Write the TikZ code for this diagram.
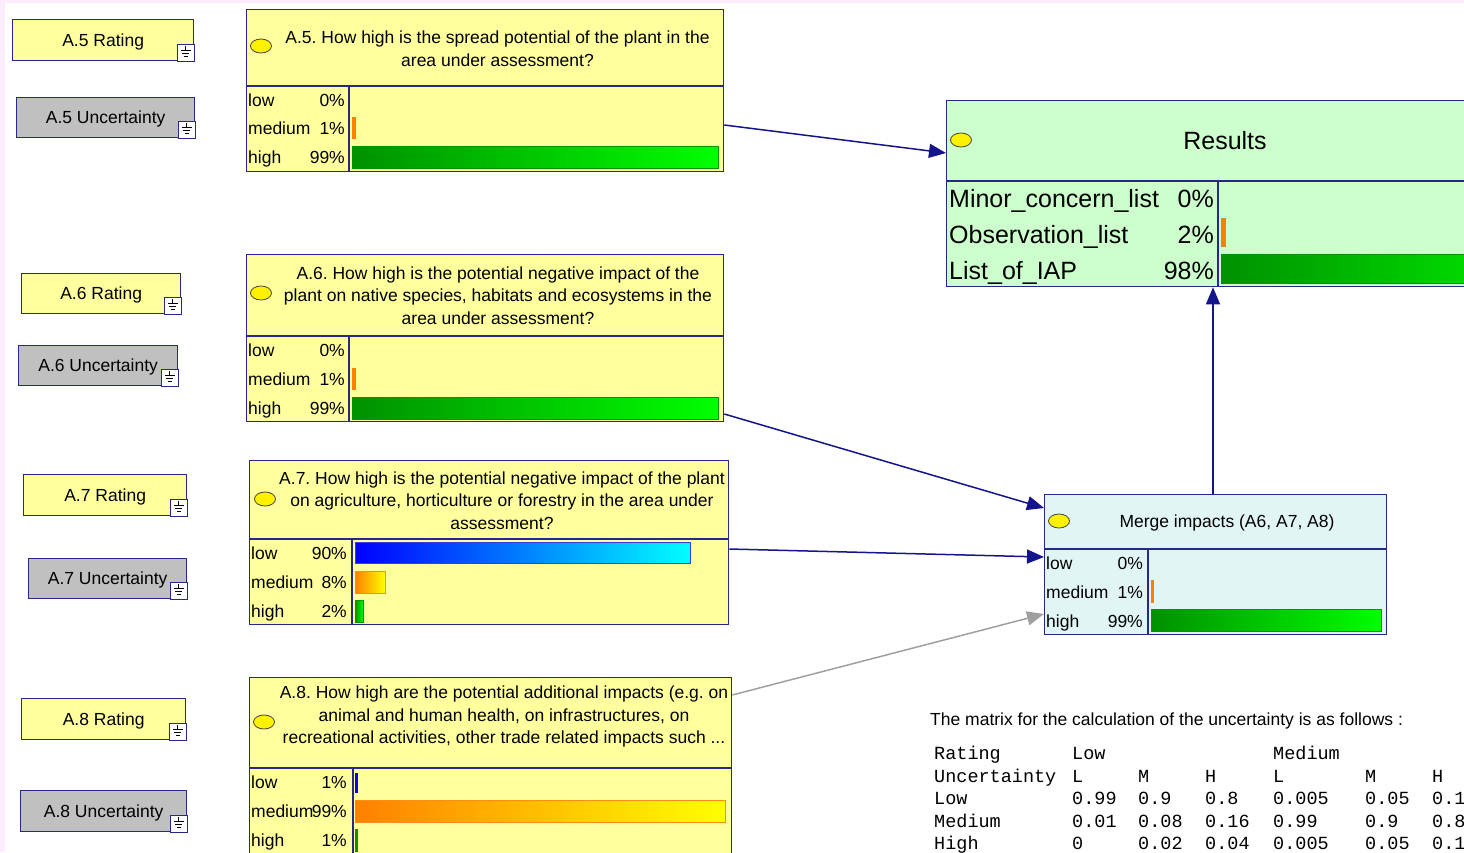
\documentclass[tikz,border=0pt]{standalone}
\usepackage{fontspec}
\setmainfont{Liberation Sans}
\newfontfamily\monofont{Liberation Mono}
\usetikzlibrary{calc,arrows.meta,shapes.geometric}
\frenchspacing
\definecolor{bordc}{RGB}{40,40,140}
\definecolor{yelfill}{RGB}{255,255,158}
\definecolor{grayfill}{RGB}{192,192,192}
\definecolor{resfill}{RGB}{204,255,204}
\definecolor{mergefill}{RGB}{225,245,245}
\definecolor{pinkbg}{RGB}{252,236,252}
\definecolor{arrc}{RGB}{20,20,140}
\definecolor{grayarr}{RGB}{160,160,160}
\definecolor{orangeL}{RGB}{255,128,0}
\definecolor{orangeD}{RGB}{255,140,20}
\definecolor{yellowR}{RGB}{255,255,0}
\definecolor{greenL}{RGB}{0,145,0}
\definecolor{greenR}{RGB}{0,255,0}
\definecolor{greenD}{RGB}{0,150,0}
\definecolor{blueL}{RGB}{0,0,255}
\definecolor{blueR}{RGB}{0,255,255}
\definecolor{blueD}{RGB}{60,60,220}
\newcommand\fsm{\fontsize{17.5}{22.5}\selectfont}
\newcommand\fbig{\fontsize{25}{30}\selectfont}
\newcommand\fmono{\monofont\fontsize{18.5}{22.5}\selectfont}
\tikzset{
  bline/.style={draw=bordc,line width=1.3pt},
  smallbox/.style={draw=bordc,line width=1.3pt,fill=yelfill,anchor=north west,inner sep=0pt,font=\fsm,text height=12.5pt,text depth=0pt},
  uncbox/.style={smallbox,fill=grayfill},
  qbox/.style={draw=bordc,line width=1.3pt,fill=yelfill,anchor=north west,inner sep=0pt},
  ell/.style={ellipse,draw=black!75,line width=0.8pt,fill=yellow,minimum width=21pt,minimum height=14pt,inner sep=0pt},
  qtext/.style={align=center,font=\fsm,inner sep=0pt},
  lab/.style={anchor=west,font=\fsm,inner sep=0pt,text height=12.5pt,text depth=0pt},
  val/.style={lab,anchor=east},
  blab/.style={anchor=west,font=\fbig,inner sep=0pt,text height=18pt,text depth=0pt},
  bval/.style={blab,anchor=east},
  mono/.style={anchor=west,font=\fmono,inner sep=0pt,text height=12pt,text depth=0pt},
  conn/.style={draw=arrc,line width=1.5pt,-{Triangle[length=17pt,width=14pt]}},
  gconn/.style={conn,draw=grayarr},
  gbar/.style={draw=greenD,line width=0.8pt,left color=greenL,right color=greenR},
  obar/.style={draw=orangeD,line width=0.8pt,left color=orangeL,right color=yellowR},
  bbar/.style={draw=blueD,line width=0.8pt,left color=blueL,right color=blueR},
}
\begin{document}
\begin{tikzpicture}[x=1pt,y=-1pt]
\clip (0,0) rectangle (1464,852);
\fill[pinkbg] (0,0) rectangle (1464,852);
\fill[white] (5,3) rectangle (1464,852);

% ---------- small left nodes ----------
\node[smallbox,minimum width=181pt,minimum height=41pt] (a5r) at (12,19) {A.5 Rating};
\node[uncbox,minimum width=178pt,minimum height=40pt] (a5u) at (16,97) {A.5 Uncertainty};
\node[smallbox,minimum width=159pt,minimum height=40pt] (a6r) at (21,273) {A.6 Rating};
\node[uncbox,minimum width=159pt,minimum height=40pt] (a6u) at (18,345) {A.6 Uncertainty};
\node[smallbox,minimum width=163pt,minimum height=41pt] (a7r) at (23,474) {A.7 Rating};
\node[uncbox,minimum width=158pt,minimum height=40pt] (a7u) at (28,558) {A.7 Uncertainty};
\node[smallbox,minimum width=164pt,minimum height=41pt] (a8r) at (21,698) {A.8 Rating};
\node[uncbox,minimum width=166pt,minimum height=41pt] (a8u) at (20,790) {A.8 Uncertainty};
\foreach \n in {a5r,a5u,a6r,a6u,a7r,a7u,a8r,a8u}{
  \draw[fill=white,draw=bordc,line width=1pt] ($(\n.south east)+(-17,-17)$) rectangle (\n.south east);
  \draw[black,line width=0.8pt] ($(\n.south east)+(-8.5,-15)$) -- ++(0,4)
        ($(\n.south east)+(-13.5,-11)$) -- ++(10,0)
        ($(\n.south east)+(-12,-8)$) -- ++(7,0)
        ($(\n.south east)+(-10.5,-5)$) -- ++(4,0);
}

% ---------- A.5 ----------
\node[qbox,minimum width=477pt,minimum height=162pt] (a5) at (246,9) {};
\draw[bline] (246,86) -- (723,86) (349,86) -- (349,171);
\node[ell] (a5e) at (261,46) {};
\node[qtext] (a5q) at (497.5,48.5) {A.5. How high is the spread potential of the plant in the\\area under assessment?};
\foreach \yy/\ll/\vv [count=\i] in {100/low/0\%,128.5/medium/1\%,157/high/99\%}{
  \node[lab] (a5l\i) at (248,\yy) {\ll};
  \node[val] (a5v\i) at (345,\yy) {\vv};
}
\fill[orangeL] (352,117) rectangle (356,139);
\draw[gbar] (352,146) rectangle (718,168);

% ---------- A.6 ----------
\node[qbox,minimum width=477pt,minimum height=167pt] (a6) at (246,254) {};
\draw[bline] (246,336) -- (723,336) (349,336) -- (349,421);
\node[ell] (a6e) at (261,293) {};
\node[qtext] (a6q) at (498,295.5) {A.6. How high is the potential negative impact of the\\plant on native species, habitats and ecosystems in the\\area under assessment?};
\foreach \yy/\ll/\vv [count=\i] in {350/low/0\%,379/medium/1\%,408/high/99\%}{
  \node[lab] (a6l\i) at (248,\yy) {\ll};
  \node[val] (a6v\i) at (345,\yy) {\vv};
}
\fill[orangeL] (352,368) rectangle (356,390);
\draw[gbar] (352,397) rectangle (718,419);

% ---------- A.7 ----------
\node[qbox,minimum width=479pt,minimum height=164pt] (a7) at (249,460) {};
\draw[bline] (249,539) -- (728,539) (352,539) -- (352,624);
\node[ell] (a7e) at (265,499) {};
\node[qtext] (a7q) at (502,500.5) {A.7. How high is the potential negative impact of the plant\\on agriculture, horticulture or forestry in the area under\\assessment?};
\foreach \yy/\ll/\vv [count=\i] in {553/low/90\%,582/medium/8\%,611/high/2\%}{
  \node[lab] (a7l\i) at (251,\yy) {\ll};
  \node[val] (a7v\i) at (347,\yy) {\vv};
}
\draw[bbar] (355,542) rectangle (690,563);
\draw[obar] (355,571) rectangle (385,593);
\draw[gbar] (355,600) rectangle (363,622);

% ---------- A.8 ----------
\node[qbox,minimum width=482pt,minimum height=200pt] (a8) at (249,677) {};
\draw[bline] (249,768) -- (731,768) (353,768) -- (353,877);
\node[ell] (a8e) at (264,722) {};
\node[qtext] (a8q) at (504,716.5) {A.8. How high are the potential additional impacts (e.g. on\\animal and human health, on infrastructures, on\\recreational activities, other trade related impacts such ...};
\foreach \yy/\ll/\vv [count=\i] in {782/low/1\%,811/medium/99\%,840/high/1\%}{
  \node[lab] (a8l\i) at (251,\yy) {\ll};
  \node[val] (a8v\i) at (347,\yy) {\vv};
}
\fill[blueL] (355,773) rectangle (358,793);
\draw[obar] (355,800) rectangle (725,822);
\fill[greenD] (355,829) rectangle (358,852);

% ---------- Results ----------
\node[qbox,fill=resfill,minimum width=600pt,minimum height=186pt] (res) at (946,100) {};
\draw[bline] (946,181) -- (1546,181) (1218,181) -- (1218,286);
\node[ell] (rese) at (961,140) {};
\node[font=\fbig,inner sep=0pt,text height=18pt,text depth=0pt] (rest) at (1225,140) {Results};
\foreach \yy/\ll/\vv [count=\i] in {198/Minor\_concern\_list/0\%,234/Observation\_list/2\%,270/List\_of\_IAP/98\%}{
  \node[blab] (resl\i) at (949,\yy) {\ll};
  \node[bval] (resv\i) at (1214,\yy) {\vv};
}
\fill[orangeL] (1221,218) rectangle (1226,247);
\draw[gbar] (1221,254) rectangle (1600,283);

% ---------- Merge impacts ----------
\node[qbox,fill=mergefill,minimum width=342pt,minimum height=140pt] (merge) at (1044,494) {};
\draw[bline] (1044,549) -- (1386,549) (1148,549) -- (1148,634);
\node[ell] (mergee) at (1059,521) {};
\node[font=\fsm,inner sep=0pt,text height=12.5pt,text depth=0pt] (merget) at (1227,521) {Merge impacts (A6, A7, A8)};
\foreach \yy/\ll/\vv [count=\i] in {563/low/0\%,592/medium/1\%,621/high/99\%}{
  \node[lab] (mergel\i) at (1046,\yy) {\ll};
  \node[val] (mergev\i) at (1143,\yy) {\vv};
}
\fill[orangeL] (1151,580) rectangle (1154,603);
\draw[gbar] (1151,609) rectangle (1381,631);

% ---------- connectors ----------
\draw[conn] ($(a5.north east)+(0,116)$) -- ($(res.north west)+(0,53)$);
\draw[conn] ($(a6.north east)+(0,160)$) -- ($(merge.north west)+(0,14)$);
\draw[conn] ($(a7.north east)+(0,89)$) -- ($(merge.north west)+(0,63)$);
\draw[gconn] ($(a8.north east)+(0,18)$) -- ($(merge.north west)+(0,120)$);
\draw[conn] ($(merge.north west)+(169,0)$) -- ($(res.south west)+(267,0)$);

% ---------- matrix text ----------
\node[lab] (mtitle) at (930,719) {The matrix for the calculation of the uncertainty is as follows :};
\node[mono] (mt0a) at (934,753) {Rating};
\node[mono] (mt0b) at (1072,753) {Low};
\node[mono] (mt0c) at (1273,753) {Medium};
\node[mono] (mt1) at (934,776) {Uncertainty};
\foreach \xx/\t [count=\c] in {1072/L,1138/M,1205/H,1273/L,1365/M,1432/H}
  \node[mono] (mt1\c) at (\xx,776) {\t};
\node[mono] (mt2) at (934,798) {Low};
\foreach \xx/\t [count=\c] in {1072/0.99,1138/0.9,1205/0.8,1273/0.005,1365/0.05,1432/0.1}
  \node[mono] (mt2\c) at (\xx,798) {\t};
\node[mono] (mt3) at (934,821) {Medium};
\foreach \xx/\t [count=\c] in {1072/0.01,1138/0.08,1205/0.16,1273/0.99,1365/0.9,1432/0.8}
  \node[mono] (mt3\c) at (\xx,821) {\t};
\node[mono] (mt4) at (934,843) {High};
\foreach \xx/\t [count=\c] in {1072/0,1138/0.02,1205/0.04,1273/0.005,1365/0.05,1432/0.1}
  \node[mono] (mt4\c) at (\xx,843) {\t};
\end{tikzpicture}
\end{document}
